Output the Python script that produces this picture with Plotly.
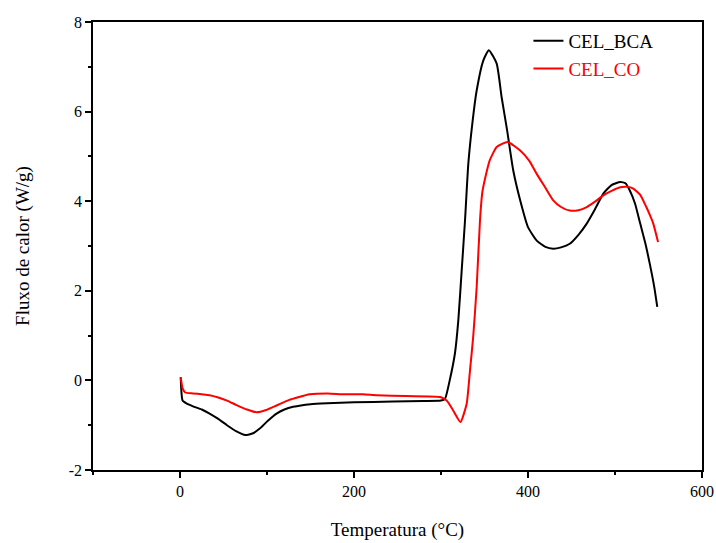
import plotly.graph_objects as go

# CEL_BCA (black)
bca_x = [0.8, 3, 8, 15, 25, 34, 44, 54, 65, 75, 84, 92, 101, 111, 120, 130, 150, 169, 200, 245, 280, 300, 304.6, 310, 316, 319.9, 323.8, 327.6, 331.4, 336.4, 341, 348.6, 355, 364, 369.7, 376, 383, 391, 400, 410, 420, 429, 438, 448, 458, 467.5, 477, 486.6, 496, 506, 512, 517, 523, 529, 535, 540, 545, 548.6]
bca_y = [0.07, -0.45, -0.52, -0.58, -0.65, -0.74, -0.86, -1.0, -1.14, -1.22, -1.18, -1.07, -0.9, -0.74, -0.65, -0.59, -0.53, -0.51, -0.49, -0.47, -0.46, -0.45, -0.41, 0.0, 0.6, 1.34, 2.46, 3.57, 4.84, 5.8, 6.47, 7.14, 7.37, 7.07, 6.32, 5.58, 4.69, 4.02, 3.42, 3.12, 2.98, 2.94, 2.97, 3.05, 3.25, 3.5, 3.82, 4.17, 4.36, 4.43, 4.4, 4.24, 3.95, 3.5, 3.05, 2.6, 2.1, 1.64]

# CEL_CO (red)
co_x = [0.8, 3, 6, 15, 25, 34, 44, 54, 65, 77, 88, 99, 111, 125, 149, 170, 188, 210, 226, 260, 299, 306.5, 314, 322.4, 329.5, 333.3, 337, 341, 344.8, 347.5, 350.6, 356, 364, 376.6, 391, 401.5, 410, 420, 429, 438, 448, 458, 467.5, 477, 486.6, 496, 506, 514, 521, 529, 536, 541, 544, 549.5]
co_y = [0.07, -0.18, -0.27, -0.29, -0.31, -0.33, -0.38, -0.45, -0.55, -0.65, -0.71, -0.66, -0.56, -0.44, -0.31, -0.29, -0.31, -0.31, -0.33, -0.35, -0.37, -0.45, -0.67, -0.93, -0.52, 0.22, 0.97, 2.08, 3.57, 4.2, 4.5, 4.91, 5.21, 5.32, 5.13, 4.9, 4.61, 4.3, 4.02, 3.87, 3.79, 3.8, 3.87, 3.99, 4.13, 4.23, 4.31, 4.32, 4.28, 4.14, 3.87, 3.65, 3.5, 3.09]

series_names = ["CEL_BCA", "CEL_CO"]
series_colors = ["black", "red"]

x_ticks = [0, 200, 400, 600]
x_ticktext = ["0", "200", "400", "600"]
y_ticks = [-2, 0, 2, 4, 6, 8]
y_ticktext = ["-2", "0", "2", "4", "6", "8"]

FONT = "Liberation Serif, Times New Roman, serif"

fig = go.Figure()
for xs, ys, name, col in [(bca_x, bca_y, series_names[0], series_colors[0]),
                           (co_x, co_y, series_names[1], series_colors[1])]:
    fig.add_trace(go.Scatter(
        x=xs, y=ys, mode="lines",
        line=dict(color=col, width=2, shape="spline", smoothing=0.5),
        name=f"<span style='color:{col}'>{name}</span>",
    ))

axis_common = dict(
    showgrid=False, zeroline=False, automargin=False,
    showline=True, linecolor="black", linewidth=1.5, mirror=True,
    ticks="outside", ticklen=6, tickwidth=1.5, tickcolor="black",
    tickfont=dict(family=FONT, size=16, color="black"),
    minor=dict(ticks="outside", ticklen=3, tickwidth=1.5, tickcolor="black"),
)

fig.update_xaxes(
    range=[-100, 600], tickvals=x_ticks, ticktext=x_ticktext,
    minor_dtick=100, minor_tick0=0,
    title=dict(text="Temperatura (°C)", font=dict(family=FONT, size=19, color="black"), standoff=24),
    **axis_common,
)
fig.update_yaxes(
    range=[-2, 8], tickvals=y_ticks, ticktext=y_ticktext,
    minor_dtick=1, minor_tick0=0,
    title=dict(text="Fluxo de calor (W/g)", font=dict(family=FONT, size=19, color="black"), standoff=34),
    **axis_common,
)

fig.update_layout(
    width=716, height=543,
    margin=dict(l=93, r=14, t=22, b=73),
    paper_bgcolor="white", plot_bgcolor="white",
    legend=dict(
        x=0.715, y=1.0, xanchor="left", yanchor="top",
        bgcolor="rgba(0,0,0,0)", borderwidth=0,
        font=dict(family=FONT, size=19, color="black"),
        tracegroupgap=0,
    ),
)

fig.write_html("out.html")
